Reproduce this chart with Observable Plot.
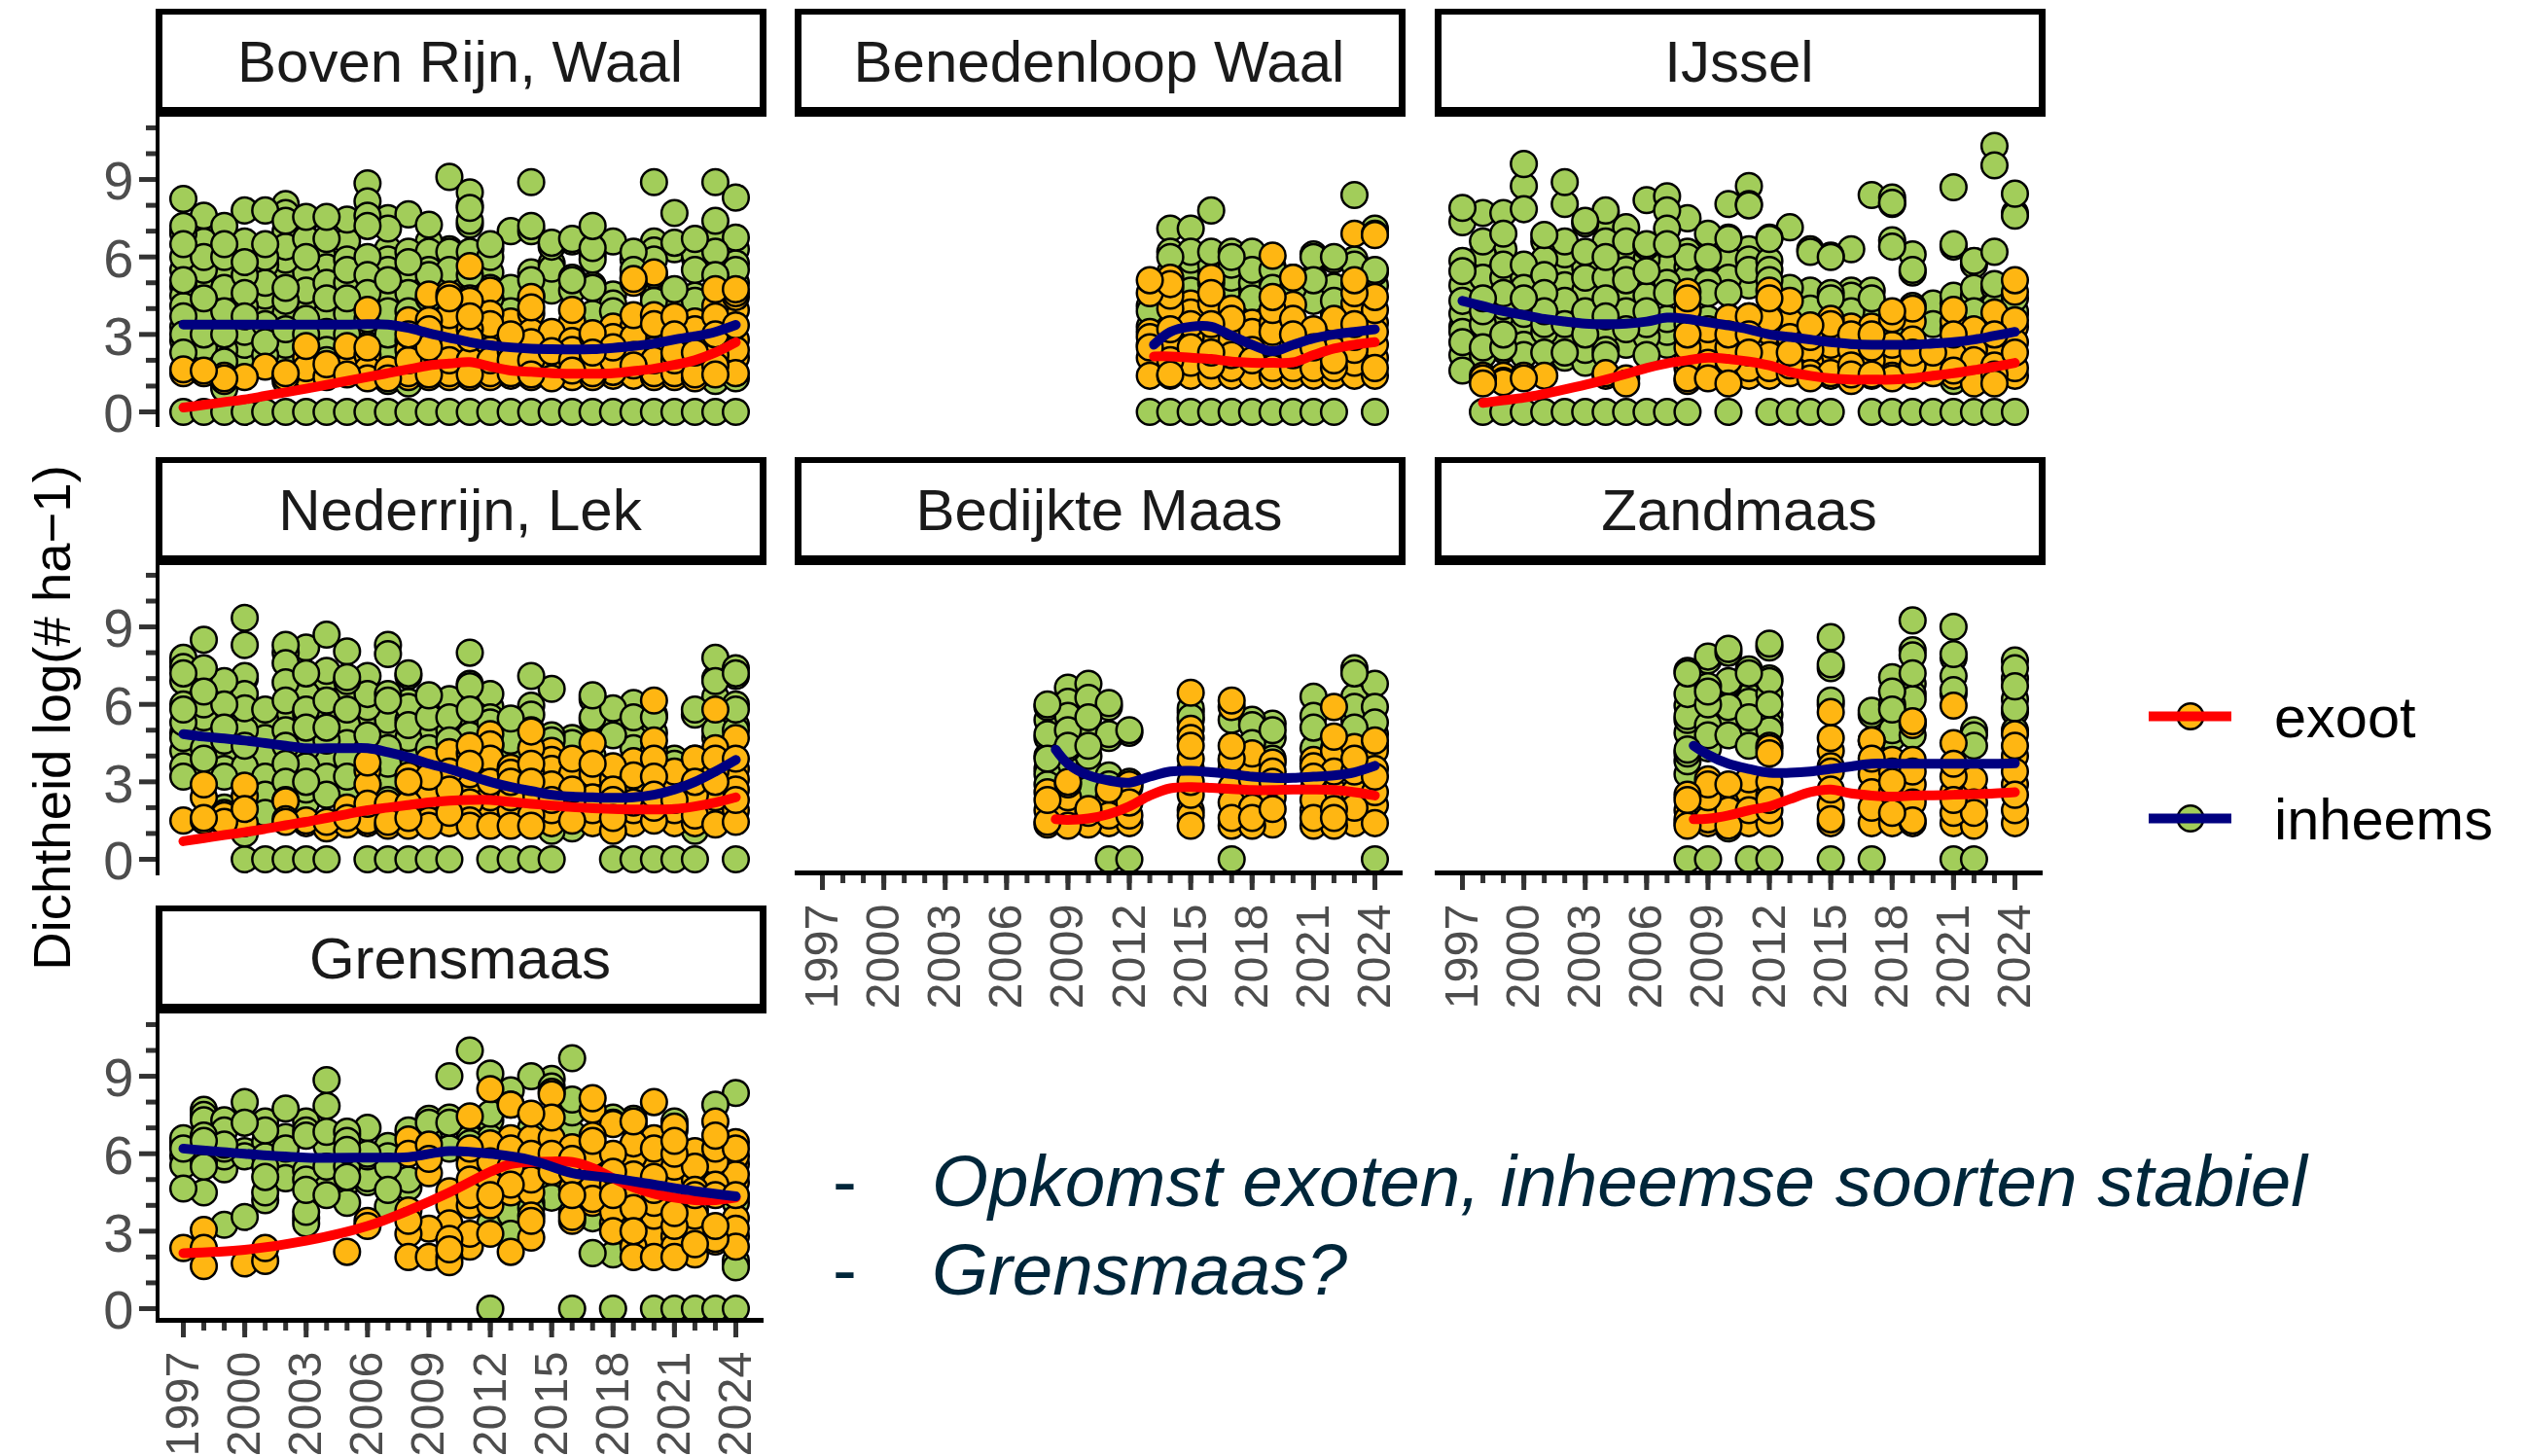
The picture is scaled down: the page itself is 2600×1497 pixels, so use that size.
<!DOCTYPE html>
<html><head><meta charset="utf-8">
<script src="https://cdn.jsdelivr.net/npm/d3@7"></script>
<script src="https://cdn.jsdelivr.net/npm/@observablehq/plot@0.6"></script>
<style>
html,body{margin:0;padding:0;background:#fff;}
#page{position:relative;width:2600px;height:1497px;overflow:hidden;font-family:"Liberation Sans",Arial,sans-serif;}
#page svg{position:absolute;overflow:visible;background:transparent;}
.strip{position:absolute;box-sizing:border-box;width:628px;height:111px;border:7px solid #000;border-top-width:6px;border-bottom-width:10px;background:#fff;color:#1a1a1a;font-size:60px;text-align:center;line-height:98px;white-space:nowrap;text-indent:-2px;}
.ytitle{position:absolute;left:53px;top:738px;transform:translate(-50%,-50%) rotate(-90deg);font-size:54.5px;white-space:nowrap;color:#000;}
.leg{position:absolute;left:2338px;font-size:59.5px;color:#000;line-height:59px;}
.note{position:absolute;font-style:italic;font-size:74.6px;color:#00263a;white-space:pre;line-height:72px;}
</style></head><body><div id="page"></div>
<script>
const allYears=[1997,1998,1999,2000,2001,2002,2003,2004,2005,2006,2007,2008,2009,2010,2011,2012,2013,2014,2015,2016,2017,2018,2019,2020,2021,2022,2023,2024];
const majorYears=[1997,2000,2003,2006,2009,2012,2015,2018,2021,2024];
const majorY=[0,3,6,9];
const minorY=[1,2,4,5,7,8,10,11];
const colours={exoot:"#ffb612",inheems:"#a2cd5a",lineExoot:"#ff0000",lineInheems:"#000080"};

// Boven Rijn, Waal
const bovenYears=allYears;
const bovenNul=allYears;
const bovenInheems=[
[8.25,7.2,7.0,6.9,6.5,6.0,5.5,5.1,4.85,4.5,4.1,3.7,3.3,3.0,2.75,2.3],
[7.6,7.0,6.6,6.0,5.5,4.9,4.4,3.9,3.4,3.0,2.5,2.0],
[7.2,6.5,6.0,5.6,5.2,4.8,4.5,3.9,3.4,3.0,2.4,1.95,1.0,0.9],
[7.8,6.6,6.3,5.8,5.3,4.6,4.1,3.7,3.1,2.6,2.1],
[7.8,6.5,6.0,5.7,5.0,4.5,4.0,3.4,2.7,2.2],
[8.05,7.7,7.4,7.0,6.4,5.9,5.4,4.8,4.3,3.8,3.2,2.6,2.1,1.2],
[7.55,7.5,6.7,6.0,5.4,4.7,4.2,3.6,3.0,2.5],
[7.55,6.7,6.3,5.6,5.0,4.4,3.8,3.1,2.4,2.0],
[7.45,6.6,6.3,5.9,5.5,5.0,4.4,3.8,3.0,2.4],
[8.85,8.15,7.6,7.2,6.0,5.6,5.3,4.6,4.1,3.6,2.6],
[7.5,7.1,6.3,5.9,5.5,5.1,4.5,3.9,3.4,3.0,2.5,1.2],
[7.65,6.2,5.8,5.5,5.2,4.6,4.2,3.9,3.6,1.1],
[7.25,6.6,6.2,5.9,5.5,5.3,4.9,4.4,4.0],
[9.1,6.3,6.2,5.9,5.5,5.0,4.7,4.3],
[8.5,8.0,7.9,7.4,7.25,6.2,5.6,5.3,4.9,4.4],
[6.3,6.5,6.0,5.4,4.8,4.4],
[7.0,4.8,4.5,4.2,3.9],
[8.9,7.2,7.0,5.4,5.1,4.5],
[6.55,6.4,5.75,5.55,4.9,4.7],
[6.7,6.6,5.2,5.1,4.7],
[7.2,6.65,6.35,6.1,5.9,4.9,4.8,3.8],
[6.6,4.55,4.2,3.9],
[6.2,5.9,5.5,5.2],
[8.9,6.6,6.25,5.9,5.3,4.5,4.3],
[7.7,6.55,6.3,4.75,4.5,4.2],
[6.7,6.3,6.1,5.95,5.5,4.5,4.3],
[8.9,7.4,6.6,6.2,5.7,5.3,1.2],
[8.3,6.75,6.3,5.75,5.5,5.0,1.3]];
const bovenExoot=[
[1.65,1.5],[1.5,1.6],[1.3,1.2,1.4],[1.35],[1.75],[1.5,1.4,1.35],
[2.55,2.1,1.7,1.4],[1.85,1.35],[2.55,2.1,1.7,1.45],[3.95,2.5,2.2,1.65,1.3],[1.65,1.3,1.4],
[3.55,3.3,3.0,2.75,2.4,2.0,1.5,1.35],[4.55,3.55,3.2,2.9,2.5,1.9,1.45,1.35],[4.4,4.55,3.75,3.25,2.9,2.35,2.0,1.5,1.35],
[5.65,4.3,4.0,3.7,3.2,2.85,2.4,2.0,1.45,1.35],[4.7,3.8,3.4,3.1,2.75,2.4,2.0,1.5,1.35],[3.5,3.0,2.7,2.35,2.0,1.5,1.4],
[4.45,4.05,3.8,3.1,2.7,2.4,2.0,1.45,1.35],[3.1,2.8,2.35,1.9,1.5,1.3],[3.95,3.5,2.75,2.4,2.0,1.6,1.35],
[3.05,2.9,2.6,2.3,2.0,1.5,1.35],[3.3,2.9,2.5,2.0,1.55,1.4],[5.15,5.0,3.75,3.3,2.9,2.6,2.2,1.8,1.4],
[5.4,3.75,3.4,3.1,2.75,2.4,2.0,1.5,1.35],[3.7,3.3,3.0,2.6,2.3,2.0,1.5,1.35],[3.5,3.2,2.7,2.3,2.0,1.7,1.45,1.3],
[4.75,4.1,3.7,3.3,3.0,2.6,2.2,1.8,1.45],[4.75,4.6,4.45,3.95,3.35,2.8,2.4,2.1,1.5]];
const bovenLijnExoot=[.17,.27,.38,.48,.62,.76,.9,1.05,1.2,1.35,1.5,1.65,1.8,1.87,1.93,1.76,1.6,1.55,1.5,1.48,1.48,1.5,1.58,1.67,1.82,2.0,2.3,2.7];
const bovenLijnInheems=[3.38,3.38,3.38,3.38,3.38,3.38,3.38,3.38,3.38,3.4,3.38,3.25,3.05,2.87,2.7,2.58,2.5,2.45,2.43,2.42,2.43,2.48,2.55,2.65,2.8,2.93,3.1,3.37];

// Benedenloop Waal
const benedenYears=[2013,2014,2015,2016,2017,2018,2019,2020,2021,2022,2023,2024];
const benedenNul=[2013,2014,2015,2016,2017,2018,2019,2020,2021,2022,2024];
const benedenInheems=[
[4.1,3.9,3.3,2.6],[7.1,6.2,6.0,5.4,4.8,4.3],[7.1,6.2,5.9,5.4,4.7,3.5],[7.8,6.2,5.7,5.4,5.0,4.5],
[6.2,6.0,5.7,5.6,5.2,4.9],[6.2,5.5,5.0,4.7,4.4,4.0],[5.6,5.5,5.0,4.8,4.2,3.6],[5.2,4.8,4.2],
[6.1,6.0,5.2,5.1,4.7,4.3],[6.0,5.9,4.85,4.7,4.3,3.8],[8.4,5.9,5.7,5.0],[7.1,7.0,5.5,5.4,4.9]];
const benedenExoot=[
[5.1,4.6,3.1,2.9,2.5,2.1,1.4],[5.2,4.95,4.5,4.0,3.2,2.7,2.0,1.45,1.4],[4.2,3.85,3.4,2.9,2.5,1.9,1.4],[5.2,4.6,4.2,3.4,2.8,2.3,1.8,1.4],
[4.0,3.6,3.3,2.8,2.2,1.7,1.4],[3.45,3.1,2.8,2.4,2.0,1.4],[6.05,4.45,3.95,3.45,3.1,2.6,2.1,1.7,1.4],[5.2,4.15,3.6,3.0,2.6,2.2,1.7,1.4],
[3.2,2.9,2.5,2.1,1.7,1.4],[3.6,3.1,2.4,2.0,1.7,1.4],[6.9,5.1,4.6,4.2,3.4,2.9,2.4,1.9,1.4],[6.9,6.85,4.45,3.95,3.45,3.1,2.6,2.1,1.7,1.4]];
const benedenLijnJaren=[2013.2,2014,2015,2016,2017,2018,2019,2020,2021,2022,2023,2024];
const benedenLijnExoot=[2.15,2.15,2.1,2.05,1.95,1.9,1.9,1.92,2.2,2.45,2.6,2.7];
const benedenLijnInheems=[2.6,3.1,3.3,3.3,2.95,2.6,2.35,2.6,2.85,3.0,3.1,3.2];

// IJssel
const ijsselYears=allYears;
const ijsselNul=[1998,1999,2000,2001,2002,2003,2004,2005,2006,2007,2008,2010,2012,2013,2014,2015,2017,2018,2019,2020,2021,2022,2023,2024];
const ijsselInheems=[
[7.9,7.35,5.85,5.45,4.9,4.3,3.8,3.3,3.1,2.7,2.2,1.6],
[7.7,6.6,6.1,5.6,5.2,4.4,3.9,3.4,2.9,2.5,2.2],
[7.7,6.9,6.3,5.7,5.2,4.6,4.1,3.5,3.0,2.5,2.4],
[9.6,8.75,7.85,5.7,5.2,4.8,4.4,3.8,3.3,2.6,2.2],
[6.85,6.6,5.9,5.3,4.6,3.9,3.4,3.1,2.3],
[8.9,8.05,6.6,6.1,5.6,4.9,4.3,3.8,3.4,2.8,2.3,2.1],
[7.4,7.3,6.2,5.6,5.2,4.7,3.9,3.4,3.0,2.4,1.9],
[7.8,7.7,7.35,6.6,6.0,5.2,4.4,3.7,3.1,2.4,2.2],
[7.15,6.6,6.1,5.5,5.1,4.5,3.9,3.2,2.6],
[8.2,6.5,6.4,5.9,5.45,4.7,4.5,3.9,3.4,2.9,2.2],
[8.35,7.8,7.1,6.5,5.6,5.0,4.6,3.6,3.1,2.6],
[7.5,6.2,6.0,5.6,5.2,4.6,3.9,3.4,2.9],
[6.9,6.4,6.0,5.9,5.4,5.0,4.6,3.6],
[8.05,6.75,6.7,5.9,5.2,4.6,3.6],
[8.75,8.05,8.0,6.3,5.9,5.5,4.9,3.7],
[6.75,6.7,5.85,5.5,5.1,3.4],
[7.15,4.8,4.2,2.9],
[6.3,6.2,4.7,4.0,2.2],
[6.05,6.0,4.6,4.4,3.1],
[6.3,4.7,4.5,3.9],
[8.4,4.7,4.4,4.3,3.6],
[8.3,8.1,8.05,6.65,6.4,3.2],
[6.1,5.5,5.4,4.1],
[4.2,3.4],
[8.7,6.5,6.4,4.5,4.2,3.2,1.2],
[5.85,5.7,4.8,4.5,3.9,3.4,1.3],
[10.3,9.55,6.2,4.95,4.8,4.1],
[8.45,7.7,7.6,4.4,3.9,3.8]];
const ijsselExoot=[
[],[1.3,1.4,1.1],[1.2,1.15,1.4],[1.4,1.3],[1.4],[],[],[1.4,1.5],[1.3,1.1],[],[],
[4.65,4.4,3.95,3.0,2.5,2.0,1.7,1.3,1.2],[3.2,2.6,1.9,1.7,1.3],[3.65,3.0,2.5,2.0,1.7,1.4,1.1],[3.7,3.0,2.3,1.7,1.4],[4.7,4.4,3.6,3.1,2.2,1.7,1.4],
[4.3,3.5,2.9,2.3,1.8,1.5],[3.35,2.9,2.4,1.9,1.5,1.3],[3.6,3.4,2.6,2.1,1.5,1.4],[3.3,3.0,2.4,1.8,1.45,1.2],[3.3,3.0,2.5,2.0,1.45,1.4],
[3.9,3.6,2.6,2.1,1.4,1.3],[4.0,3.5,2.8,2.3,1.8,1.4],[2.3,2.1,1.5],[3.95,3.5,3.0,2.2,1.6,1.4],[3.2,2.8,2.4,2.0,1.5,1.1],
[3.85,3.0,2.6,2.1,1.8,1.45,1.1],[5.1,4.65,3.55,3.3,2.7,2.3,1.7,1.4]];
const ijsselLijnJaren=[1997,1998,1999,2000,2001,2002,2003,2004,2005,2006,2007,2008,2009,2010,2011,2012,2013,2014,2015,2016,2017,2018,2019,2020,2021,2022,2023,2024];
const ijsselLijnInheems=[4.3,4.1,3.9,3.75,3.6,3.5,3.42,3.4,3.42,3.5,3.65,3.6,3.47,3.35,3.2,3.0,2.9,2.8,2.7,2.63,2.6,2.6,2.6,2.65,2.7,2.8,2.95,3.1];
const ijsselLijnExootJaren=[1998,1999,2000,2001,2002,2003,2004,2005,2006,2007,2008,2009,2010,2011,2012,2013,2014,2015,2016,2017,2018,2019,2020,2021,2022,2023,2024];
const ijsselLijnExoot=[.35,.45,.55,.7,.87,1.05,1.25,1.47,1.7,1.88,2.0,2.1,2.05,1.95,1.8,1.55,1.4,1.3,1.25,1.25,1.25,1.3,1.4,1.5,1.62,1.75,1.9];

// Nederrijn, Lek
const nederYears=allYears;
const nederNul=[2000,2001,2002,2003,2004,2006,2007,2008,2009,2010,2012,2013,2014,2015,2018,2019,2020,2021,2022,2024];
const nederInheems=[
[7.8,7.65,7.45,7.2,6.9,6.0,5.8,5.3,4.9,4.7,4.2,3.6,3.2],
[8.5,7.4,7.3,6.5,6.3,6.0,5.5,5.0,4.3,3.9,3.4,2.9],
[6.9,6.4,6.0,5.6,5.1,4.6,4.2,3.5,3.2,2.0,1.8],
[9.35,8.3,7.1,7.0,6.4,5.85,5.4,5.0,4.4,3.6,3.1,1.0],
[5.8,5.6,5.4,4.7,4.0,3.2,2.5,1.8],
[8.3,8.0,7.6,6.85,6.15,5.6,5.0,4.4,3.7,3.0,2.3],
[8.2,7.2,6.4,5.8,5.6,5.1,4.6,4.3,3.6,3.0,2.7,2.2],
[8.7,7.3,7.0,6.15,5.9,5.1,4.6,4.0,3.5,3.2,2.5],
[8.05,7.05,6.9,6.3,5.8,5.2,4.5,3.9,3.2,2.7],
[7.1,6.4,5.9,5.6,4.8,4.3,3.6,2.9],
[8.3,7.95,6.4,6.15,5.4,4.9,4.3,3.7,3.1,2.3],
[7.2,7.1,6.1,5.9,5.4,5.2,4.7,4.2,3.4],
[6.35,6.3,5.5,4.9,4.3],
[6.2,5.7,5.5,5.0,4.6,4.2],
[8.0,6.8,6.7,6.3,5.8,5.6,4.8],
[6.4,5.9,5.5,5.3,4.4],
[5.45,5.0,4.6,4.2],
[7.1,5.95,5.6,5.0],
[6.6,4.8,4.6,3.0,1.1],
[4.7,4.5,3.8,1.2],
[6.35,6.2,5.5,5.4,4.0],
[5.85,5.05,4.8,3.4],
[6.05,5.9,5.5,4.7,4.3],
[5.6,5.5,4.9],
[3.9,3.7],
[5.8,5.6,3.9,1.1],
[7.8,7.0,6.9,6.3,5.0,4.7],
[7.4,7.2,7.1,6.0,5.8,5.2,5.0]];
const nederExoot=[
[1.5],[2.9,2.4,1.6,1.5],[1.7,1.45,1.4],[2.85,2.45,1.95,1.4],[],[2.25,1.55,1.45],[1.5,1.4],[1.45,1.2],[2.0,1.6,1.35],
[3.75,3.45,2.9,2.15,1.5,1.4],[2.15,1.9,1.45,1.3],[3.25,3.0,2.15,1.6,1.5,1.3],[3.85,3.2,2.8,2.4,2.1,1.5,1.3],[4.15,3.4,2.7,2.2,1.8,1.4],
[4.4,4.1,3.7,3.3,2.8,2.2,1.5,1.3],[4.85,4.45,3.9,3.3,3.0,2.4,1.9,1.3],[3.55,3.35,3.0,2.4,1.9,1.3],[4.95,4.3,3.7,3.3,3.0,2.1,1.7,1.3],
[4.2,3.85,3.5,2.9,2.3,1.9,1.4],[3.9,3.3,2.7,2.2,1.75,1.5],[4.5,3.7,3.3,2.8,2.4,1.9,1.4],[3.6,3.1,2.7,2.3,1.6,1.1],[3.8,3.25,2.6,2.2,1.9,1.4],
[6.15,4.6,4.2,3.9,3.5,3.2,2.5,2.0,1.5],[3.4,2.9,2.3,1.9,1.4],[3.9,3.5,3.0,2.5,2.1,1.7,1.4],[5.8,4.3,3.9,3.4,3.0,2.4,1.9,1.35],[4.7,3.9,3.5,3.1,2.7,2.3,1.9,1.45]];
const nederLijnInheems=[4.85,4.75,4.68,4.6,4.5,4.4,4.3,4.3,4.3,4.3,4.15,3.95,3.7,3.5,3.25,3.0,2.8,2.65,2.5,2.43,2.4,2.38,2.4,2.5,2.7,3.0,3.4,3.85];
const nederLijnExoot=[.7,.82,.94,1.05,1.18,1.32,1.45,1.6,1.75,1.9,2.0,2.1,2.2,2.27,2.3,2.3,2.22,2.15,2.08,2.02,1.98,1.95,1.93,1.93,1.95,2.05,2.2,2.4];

// Bedijkte Maas
const bedijkteYears=[2008,2009,2010,2011,2012,2015,2017,2018,2019,2021,2022,2023,2024];
const bedijkteNul=[2011,2012,2017,2024];
const bedijkteInheems=[
[6.0,5.9,5.4,4.85,4.7,4.0,3.9,3.5,3.3,2.9],[6.65,6.1,5.55,5.0,4.55,4.4,4.3,3.5],[6.8,6.25,5.5,4.85,4.4,4.0,3.5,2.7,1.8],[6.05,5.9,4.85,4.7,3.25,2.9],[5.0,4.9,3.0],
[5.85,5.7,5.5,5.4],[5.4,3.8],[5.4,5.2,4.5,3.9],[5.25,5.0,4.7,3.9],[6.3,5.55,5.1,4.3,3.7],[4.7,4.3],[7.4,7.3,7.2,6.3,5.9,5.4,5.1],[6.8,5.9,5.3,4.85,4.4]];
const bedijkteExoot=[
[2.6,2.3,1.9,1.45,1.35],[3.0,2.9,2.4,1.9,1.4,1.3],[1.95,1.8,1.4,1.35],[2.7,2.4,1.7,1.4],[2.9,2.8,2.2,1.7,1.4],
[6.45,5.05,4.7,4.4,3.9,3.5,3.0,2.5,1.9,1.7,1.3],[6.15,5.9,4.4,3.9,3.5,2.8,2.2,1.6,1.3],[4.1,3.6,3.1,2.6,2.0,1.6,1.3],[3.75,3.4,3.0,2.4,1.95,1.35],
[3.85,3.6,3.2,2.7,2.3,1.9,1.6,1.3],[5.9,4.75,4.2,3.4,2.6,1.95,1.6,1.3],[4.35,3.9,3.4,2.6,2.0,1.4],[4.6,4.2,3.5,3.2,2.6,2.1,1.4]];
const bedijkteLijnJaren=[2008.4,2009,2010,2011,2012,2013,2014,2015,2016,2017,2018,2019,2020,2021,2022,2023,2024];
const bedijkteLijnInheems=[4.25,3.7,3.25,3.05,2.97,3.2,3.4,3.43,3.37,3.3,3.2,3.15,3.15,3.2,3.25,3.37,3.62];
const bedijkteLijnExoot=[1.55,1.53,1.58,1.75,2.05,2.47,2.75,2.8,2.77,2.72,2.68,2.68,2.7,2.7,2.68,2.6,2.47];

// Zandmaas
const zandYears=[2008,2009,2010,2011,2012,2015,2017,2018,2019,2021,2022,2024];
const zandNul=[2008,2009,2011,2012,2015,2017,2021,2022];
const zandInheems=[
[7.3,7.2,6.4,5.95,5.55,5.4,4.9,4.25,4.1,3.8,3.3],[7.85,7.7,6.7,6.5,6.0,5.6,5.2,4.8,4.3],[8.15,8.0,6.9,6.8,6.3,5.9,5.6,4.8,1.2],[7.35,7.2,6.3,6.1,5.5,4.9,4.4],[8.35,8.2,7.0,6.9,6.4,6.0,5.6,5.2,5.0,4.4],
[8.6,7.55,7.4,6.15,6.0],[5.75,5.6,4.6],[7.05,6.5,6.0,5.8,5.0,4.7],[9.25,8.1,7.9,7.2,6.8,6.4,6.2,5.3,4.8],[9.0,7.95,7.8,7.1,6.55,6.4],[5.0,4.8,4.4],[7.7,7.4,7.0,6.7,6.2,5.85,5.7,5.0]];
const zandExoot=[
[2.5,2.3,1.9,1.55,1.4,1.3],[3.1,2.9,2.4,1.9,1.55,1.4],[2.9,2.6,1.9,1.4,1.3],[3.1,2.6,2.1,1.9,1.4],[4.3,4.1,3.0,2.5,2.3,1.9,1.4],
[5.7,4.7,4.2,3.6,3.4,2.7,2.1,1.55,1.4],[4.6,3.9,3.3,2.6,2.0,1.4],[3.85,3.4,3.0,2.6,2.2,1.8,1.4],[5.35,5.2,3.85,3.4,2.9,2.4,2.2,1.5,1.4],[5.95,4.5,3.7,3.2,2.6,2.3,1.8,1.4],[3.1,2.6,2.2,1.8,1.3],[4.85,4.4,4.0,3.4,2.9,2.5,1.9,1.4]];
const zandLijnJaren=[2008.3,2009,2010,2011,2012,2013,2014,2015,2016,2017,2018,2019,2020,2021,2022,2023,2024];
const zandLijnInheems=[4.4,4.05,3.7,3.5,3.35,3.35,3.4,3.5,3.6,3.7,3.7,3.7,3.7,3.7,3.7,3.7,3.72];
const zandLijnExoot=[1.55,1.57,1.7,1.9,2.05,2.33,2.6,2.7,2.55,2.47,2.43,2.47,2.48,2.5,2.52,2.55,2.6];

// Grensmaas
const grensYears=allYears;
const grensNul=[2012,2016,2018,2020,2021,2022,2023,2024];
const grensInheems=[
[6.6,6.45,6.3,6.2,5.9,5.55,4.65],[7.7,7.5,7.3,6.7,6.5,6.1,5.7,5.5,4.5],[7.3,6.9,6.35,6.2,5.9,5.6,5.4,3.25],[8.0,7.2,6.1,5.9,3.55],[7.25,6.9,6.45,5.9,5.5,5.1,4.5,4.2],
[7.75,6.65,6.2,5.6,5.05],[7.25,6.9,6.7,5.35,5.0,4.6,3.75,3.5,3.3],[8.85,7.85,6.85,6.3,5.5,4.65,4.4],[6.85,6.7,6.5,6.15,5.5,5.1,4.9,4.1],[7.0,6.0,5.9,5.05,4.9],
[6.3,5.9,5.5,4.6,3.95],[6.9,5.0,4.7],[7.35,7.2,6.6],[9.0,7.4,7.2,6.2],[10.0,6.6,6.4,5.8],[9.1,7.55,7.3,6.6,6.1,3.3],
[8.45,7.9,3.65,2.9],[9.0,7.0,4.1,3.9],[8.9,8.6,5.5,4.5,4.3],[9.7,8.1,7.6,6.8,4.0,3.7],[2.15,4.2,3.5],[7.4,7.2,5.2,4.5,2.1],
[7.35,7.1,4.6],[6.5,3.25,3.4],[7.25,7.1,6.9,4.8],[5.8,4.2,3.8],[7.9,6.4,5.2],[8.35,4.35,4.1,1.85,1.7,1.6]];
const grensExoot=[
[2.35],[3.05,2.35,1.65],[],[1.75],[2.35,1.85],[],[],[],[2.2],[3.4,3.2],[],
[6.55,6.0,3.8,3.4,2.9,2.0],[6.35,5.8,5.25,3.1,2.0],[4.55,4.0,3.3,2.7,2.3,2.0,1.8],[7.45,6.2,5.6,5.0,4.4,4.0,2.9,2.4],[8.5,6.4,5.7,5.2,4.8,4.4,4.0,2.9],
[7.9,6.6,6.2,5.5,4.8,4.5,2.2],[7.55,6.6,6.0,5.0,4.5,3.6,2.75,3.4],[8.4,8.3,7.4,6.6,6.0,5.6,5.3],[6.25,5.8,5.3,4.65,4.4,3.55,3.4],[8.15,7.7,6.7,6.5,6.0,5.0,4.25,4.1],
[7.15,6.0,5.6,5.3,4.8,4.4,3.75,3.3,3.0],[7.25,6.4,5.9,5.2,4.7,4.2,3.9,3.0,2.4,2.0],[8.0,6.6,6.2,5.6,5.1,4.6,4.1,3.6,2.8,2.0],[7.05,6.5,6.0,5.5,4.9,4.2,3.7,3.2,2.8,2.4,2.0],[6.1,5.5,5.0,4.6,4.4,3.6,3.1,2.5,2.1],
[7.25,6.7,6.2,5.7,5.2,4.8,4.4,3.2,2.7,2.6],[6.45,6.2,5.9,5.6,5.2,4.9,4.4,3.5,3.1,2.8,2.4]];
const grensLijnJaren=[1997,2000,2003,2006,2008,2010,2012,2013,2014,2015,2016,2017,2018,2019,2020,2021,2022,2023,2024];
const grensLijnExoot=[2.15,2.28,2.63,3.2,3.8,4.5,5.3,5.6,5.68,5.7,5.68,5.45,5.05,4.7,4.45,4.3,4.2,4.2,4.3];
const grensLijnInheemsJaren=[1997,2000,2003,2006,2008,2010,2012,2014,2016,2018,2020,2022,2024];
const grensLijnInheems=[6.2,6.0,5.85,5.85,5.87,6.1,6.0,5.75,5.25,5.05,4.8,4.55,4.35];

// Table of panels, built from the arrays above
const panels=[
 {title:"Boven Rijn, Waal",col:0,row:0,years:bovenYears,nul:bovenNul,inheems:bovenInheems,exoot:bovenExoot,lx:allYears,le:bovenLijnExoot,lxi:allYears,li:bovenLijnInheems,left:true,bottom:false},
 {title:"Benedenloop Waal",col:1,row:0,years:benedenYears,nul:benedenNul,inheems:benedenInheems,exoot:benedenExoot,lx:benedenLijnJaren,le:benedenLijnExoot,lxi:benedenLijnJaren,li:benedenLijnInheems,left:false,bottom:false},
 {title:"IJssel",col:2,row:0,years:ijsselYears,nul:ijsselNul,inheems:ijsselInheems,exoot:ijsselExoot,lx:ijsselLijnExootJaren,le:ijsselLijnExoot,lxi:ijsselLijnJaren,li:ijsselLijnInheems,left:false,bottom:false},
 {title:"Nederrijn, Lek",col:0,row:1,years:nederYears,nul:nederNul,inheems:nederInheems,exoot:nederExoot,lx:allYears,le:nederLijnExoot,lxi:allYears,li:nederLijnInheems,left:true,bottom:false},
 {title:"Bedijkte Maas",col:1,row:1,years:bedijkteYears,nul:bedijkteNul,inheems:bedijkteInheems,exoot:bedijkteExoot,lx:bedijkteLijnJaren,le:bedijkteLijnExoot,lxi:bedijkteLijnJaren,li:bedijkteLijnInheems,left:false,bottom:true},
 {title:"Zandmaas",col:2,row:1,years:zandYears,nul:zandNul,inheems:zandInheems,exoot:zandExoot,lx:zandLijnJaren,le:zandLijnExoot,lxi:zandLijnJaren,li:zandLijnInheems,left:false,bottom:true},
 {title:"Grensmaas",col:0,row:2,years:grensYears,nul:grensNul,inheems:grensInheems,exoot:grensExoot,lx:grensLijnJaren,le:grensLijnExoot,lxi:grensLijnInheemsJaren,li:grensLijnInheems,left:true,bottom:true}
];
const colLeft=[160,817,1475];
const rowStrip=[9,470,931];
const rowPanel=[120,581,1041];
const rowZero=[423,883,1345];
const panelW=627, panelH=317, unit=26.55, leftM=120, botM=150;
const page=document.getElementById("page");
// drawing order only: mixes the overlap of the stacked dots, the values stay as read
const drawOrder=d=>Math.round(d.y*100)%7;

for(const p of panels){
  const s=document.createElement("div");
  s.className="strip"; s.textContent=p.title;
  s.style.left=colLeft[p.col]+"px"; s.style.top=rowStrip[p.row]+"px";
  page.appendChild(s);

  const pts=[];
  p.inheems.forEach((vs,i)=>vs.forEach(v=>pts.push({x:p.years[i],y:v})));
  p.nul.forEach(yr=>pts.push({x:yr,y:0}));
  const exo=[];
  p.exoot.forEach((vs,i)=>vs.forEach(v=>exo.push({x:p.years[i],y:v})));
  const le=p.lx.map((x,i)=>({x,y:p.le[i]}));
  const li=p.lxi.map((x,i)=>({x,y:p.li[i]}));
  const zeroY=rowZero[p.row]-rowPanel[p.row];

  const marks=[
    Plot.dot(pts,{x:"x",y:"y",r:13.3,fill:colours.inheems,stroke:"#000",strokeWidth:2.5,sort:drawOrder}),
    Plot.dot(exo,{x:"x",y:"y",r:13.3,fill:colours.exoot,stroke:"#000",strokeWidth:2.5,sort:drawOrder}),
    Plot.line(le,{x:"x",y:"y",stroke:colours.lineExoot,strokeWidth:10,curve:"catmull-rom"}),
    Plot.line(li,{x:"x",y:"y",stroke:colours.lineInheems,strokeWidth:10,curve:"catmull-rom"})
  ];
  if(p.left){
    marks.push(
      Plot.axisY({ticks:minorY,tickSize:10,anchor:"left",fill:"none",stroke:"#333",strokeWidth:5,label:null,tickFormat:d=>""}),
      Plot.axisY({ticks:majorY,tickSize:17,anchor:"left",fill:"none",stroke:"#333",strokeWidth:5,label:null,tickFormat:d=>""}),
      Plot.text(majorY,{y:d=>d,text:d=>String(d),frameAnchor:"left",textAnchor:"end",dx:-23,dy:3,fontSize:56,fill:"#4d4d4d",fontFamily:"Liberation Sans"})
    );
  }
  if(p.bottom){
    marks.push(
      Plot.axisX({ticks:allYears,tickSize:10,anchor:"bottom",fill:"none",stroke:"#333",strokeWidth:5,label:null,tickFormat:d=>""}),
      Plot.axisX({ticks:majorYears,tickSize:17,anchor:"bottom",tickRotate:-90,stroke:"#333",strokeWidth:5,fill:"#4d4d4d",fontSize:48.5,tickPadding:14,label:null,tickFormat:d=>String(d),fontFamily:"Liberation Sans"})
    );
  }
  const chart=Plot.plot({
    width:leftM+panelW, height:panelH+botM,
    marginLeft:leftM, marginRight:0, marginTop:0, marginBottom:botM,
    style:{background:"transparent",overflow:"visible"},
    x:{type:"linear",domain:[1997,2024],range:[leftM+28,leftM+596],label:null,axis:null},
    y:{type:"linear",domain:[0,9],range:[zeroY,zeroY-9*unit],label:null,axis:null},
    marks
  });
  chart.style.left=(colLeft[p.col]-leftM)+"px";
  chart.style.top=rowPanel[p.row]+"px";
  page.appendChild(chart);

  // axis lines of the panel
  const line=(l,t,w,h)=>{const d=document.createElement("div");d.style.cssText=`position:absolute;background:#000;left:${l}px;top:${t}px;width:${w}px;height:${h}px`;page.appendChild(d);};
  if(p.left) line(colLeft[p.col],rowPanel[p.row],4,panelH+2);
  if(p.bottom) line(colLeft[p.col],rowPanel[p.row]+panelH-3,625,5);
}

// y title
const yt=document.createElement("div");yt.className="ytitle";yt.textContent="Dichtheid log(# ha\u22121)";page.appendChild(yt);

// legend
const legendLabels=["exoot","inheems"];
const legendCentres=[736,841];
legendLabels.forEach((lab,i)=>{
  const key=Plot.plot({
    width:85,height:40,margin:0,style:{background:"transparent",overflow:"visible"},
    x:{domain:[0,1],range:[0,85],axis:null},y:{domain:[0,1],range:[40,0],axis:null},
    marks:[
      Plot.dot([0.5],{x:d=>d,y:()=>0.5,r:13.3,fill:i?colours.inheems:colours.exoot,stroke:"#000",strokeWidth:2.5}),
      Plot.ruleY([0.5],{x1:0,x2:1,stroke:i?colours.lineInheems:colours.lineExoot,strokeWidth:10})
    ]});
  key.style.left="2209px";key.style.top=(legendCentres[i]-20)+"px";
  page.appendChild(key);
  const t=document.createElement("div");t.className="leg";t.textContent=lab;t.style.top=(legendCentres[i]-28)+"px";page.appendChild(t);
});

// note
const noteLines=["Opkomst exoten, inheemse soorten stabiel","Grensmaas?"];
noteLines.forEach((txt,i)=>{
  const dash=document.createElement("div");dash.className="note";dash.style.fontStyle="normal";dash.textContent="-";dash.style.left="856px";dash.style.top=(1178+i*91)+"px";page.appendChild(dash);
  const n=document.createElement("div");n.className="note";n.textContent=txt;n.style.left="958px";n.style.top=(1178+i*91)+"px";page.appendChild(n);
});
</script></body></html>
